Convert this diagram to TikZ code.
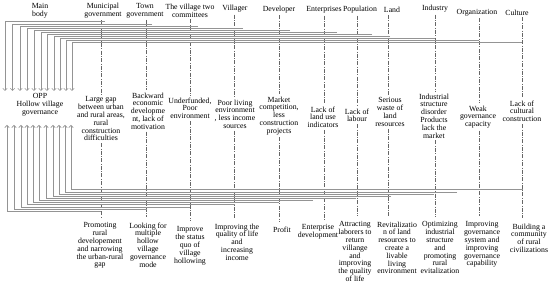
\documentclass[tikz,border=0pt]{standalone}
\usepackage{fontspec}
\setmainfont{Liberation Serif}
\usetikzlibrary{arrows.meta}
\begin{document}
\begin{tikzpicture}[x=1pt,y=-1pt,
  lbl/.style={font=\fontsize{7.8}{7.8}\selectfont, align=center, inner sep=2pt},
  conn/.style={draw=black!42, line width=1pt},
  arr/.style={conn, -{Straight Barb[length=2.2pt,width=4.4pt,line width=0.6pt]}},
  dd/.style={draw=black!60, line width=0.5pt, dash pattern=on 4pt off 1.5pt on 0.6pt off 1.5pt}]
\useasboundingbox (0,0) rectangle (550,286);
\fill[white] (0,0) rectangle (550,286);

% column coordinates
\coordinate (cMun) at (101,0);
\coordinate (cTown) at (146,0);
\coordinate (cVil) at (190,0);
\coordinate (cVgr) at (234,0);
\coordinate (cDev) at (279,0);
\coordinate (cEnt) at (324,0);
\coordinate (cPop) at (357,0);
\coordinate (cLand) at (388,0);
\coordinate (cInd) at (435,0);
\coordinate (cOrg) at (479,0);
\coordinate (cCul) at (522,0);

% headers
\node[lbl] (hMain) at (40,10.5) {Main\\body};
\node[lbl] (hMun) at (103,10.5) {Municipal\\government};
\node[lbl] (hTown) at (145,10.5) {Town\\government};
\node[lbl] (hVil) at (190,10.5) {The village two\\committees};
\node[lbl] (hVgr) at (235,9) {Villager};
\node[lbl] (hDev) at (279,9.5) {Developer};
\node[lbl] (hEnt) at (324,10) {Enterprises};
\node[lbl] (hPop) at (360,10) {Population};
\node[lbl] (hLand) at (392,10) {Land};
\node[lbl] (hInd) at (435,9) {Industry};
\node[lbl] (hOrg) at (477,12.5) {Organization};
\node[lbl] (hCul) at (517,12.5) {Culture};

% centre node
\node[lbl] (opp) at (40,104.5) {OPP\\Hollow village\\governance};
\coordinate (oppTop) at (40,91);
\coordinate (oppBot) at (40,125);

% problems
\node[lbl,anchor=north] (mMun) at (101,94.5) {Large gap\\between urban\\and rural areas,\\rural\\construction\\difficulties};
\node[lbl,anchor=north] (mTown) at (148,90.5) {Backward\\economic\\developme\\nt, lack of\\motivation};
\node[lbl,anchor=north] (mVil) at (190,95.5) {Underfunded,\\Poor\\environment};
\node[lbl,anchor=north] (mVgr) at (235,97.5) {Poor living\\environment\\, less income\\sources};
\node[lbl,anchor=north] (mDev) at (279,94.5) {Market\\competition,\\less\\construction\\projects};
\node[lbl,anchor=north] (mEnt) at (323,104.5) {Lack of\\land use\\indicators};
\node[lbl,anchor=north] (mPop) at (357,106.5) {Lack of\\labour};
\node[lbl,anchor=north] (mLand) at (390,95.5) {Serious\\waste of\\land\\resources};
\node[lbl,anchor=north] (mInd) at (434,91.5) {Industrial\\structure\\disorder\\Products\\lack the\\market};
\node[lbl,anchor=north] (mOrg) at (478,103.5) {Weak\\governance\\capacity};
\node[lbl,anchor=north] (mCul) at (522,98.5) {Lack of\\cultural\\construction};

% solutions
\node[lbl,anchor=north] (bMun) at (100,220.5) {Promoting\\rural\\developement\\and narrowing\\the urban-rural\\gap};
\node[lbl,anchor=north] (bTown) at (148,220.5) {Looking for\\multiple\\hollow\\village\\governance\\mode};
\node[lbl,anchor=north] (bVil) at (190,224.5) {Improve\\the status\\quo of\\village\\hollowing};
\node[lbl,anchor=north] (bVgr) at (237,221.5) {Improving the\\quality of life\\and\\increasing\\income};
\node[lbl,anchor=north] (bDev) at (282,224.5) {Profit};
\node[lbl,anchor=north] (bEnt) at (318,222.5) {Enterprise\\development};
\node[lbl,anchor=north] (bPop) at (355,219.5) {Attracting\\laborers to\\return\\villange\\and\\improving\\the quality\\of life};
\node[lbl,anchor=north] (bLand) at (397,219.5) {Revitalizatio\\n of land\\resources to\\create a\\livable\\living\\environment};
\node[lbl,anchor=north] (bInd) at (440,219.5) {Optimizing\\industrial\\structure\\and\\promoting\\rural\\evitalization};
\node[lbl,anchor=north] (bOrg) at (482,219.5) {Improving\\governance\\system and\\improving\\governance\\capability};
\node[lbl,anchor=north] (bCul) at (529,221.5) {Building a\\community\\of rural\\civilizations};

% dash-dot column lines
\foreach \c in {Mun,Town,Vil,Vgr,Dev,Ent,Pop,Land,Ind,Org,Cul}{
  \draw[dd] (h\c.south -| c\c) -- (m\c.north -| c\c);
  \draw[dd] (m\c.south -| c\c) -- ([yshift=3pt]b\c.north -| c\c);
}

% top connectors (from columns down into the centre node)
\foreach \n/\ax/\yy/\ex in {1/5/22/105, 2/12.5/24.1/152, 3/20/26.2/198, 4/27/28.3/243,
  5/34/30.4/290, 6/41/32.5/337, 7/47/34.6/372, 8/54/36.7/390, 9/60/38.8/435,
  10/66/40.9/479, 11/72/43/522}{
  \coordinate (tc\n) at (\ax,\yy);
  \coordinate (te\n) at (\ex,\yy);
  \draw[arr] (te\n) -- (tc\n) -- (tc\n |- oppTop);
}

% bottom connectors (from columns up into the centre node)
\foreach \n/\ax/\yy/\ex in {1/7/211.7/101, 2/14/209.5/147, 3/21/207.3/190, 4/27/205/235,
  5/33/203/279, 6/39/201/313, 7/46/198.8/356, 8/53/196.6/391, 9/59/194.4/434,
  10/65/192.2/457, 11/71/190/523}{
  \coordinate (bc\n) at (\ax,\yy);
  \coordinate (be\n) at (\ex,\yy);
  \draw[arr] (be\n) -- (bc\n) -- (bc\n |- oppBot);
}
\end{tikzpicture}
\end{document}
